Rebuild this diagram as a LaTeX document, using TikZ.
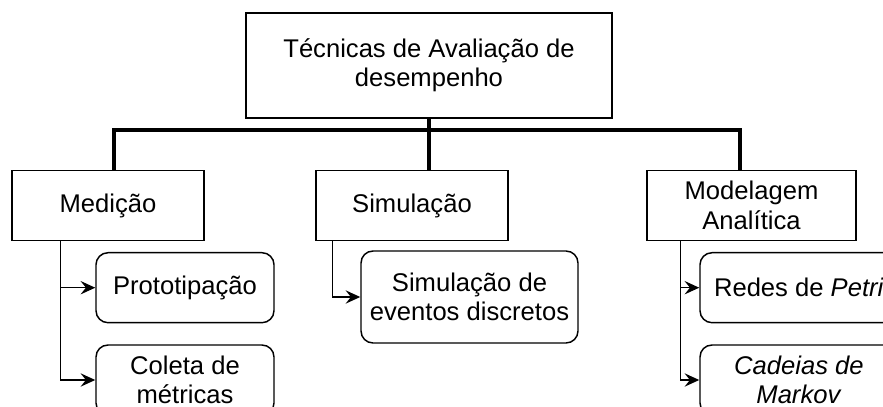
\documentclass[tikz,border=0pt]{standalone}
\usepackage{fontspec}
\setmainfont{Liberation Sans}
\usetikzlibrary{arrows.meta, positioning}

\begin{document}
\begin{tikzpicture}[x=0.75pt, y=-0.75pt,
    font=\fontsize{19.2pt}{22pt}\selectfont,
    main/.style = {draw, line width=1.1pt, align=center, inner sep=2pt,
                   minimum width=144pt, minimum height=52.5pt},
    leaf/.style = {main, rounded corners=9pt, minimum width=133.5pt},
    bus/.style  = {line width=2.3pt},
    child/.style = {line width=1.1pt, -{Stealth[length=11pt, width=10pt, inset=4pt]}}]
      \useasboundingbox (0,0) rectangle (883,407);
      \clip (0,0) rectangle (883,407);

      \node[main, minimum width=274.5pt, minimum height=78.75pt] (top) at (429,65.5)
            {Técnicas de Avaliação de\\desempenho};

      \node[main] (med) at (108,205.5)   {Medição};
      \node[main] (sim) at (412,205.5)   {Simulação};
      \node[main, minimum width=156.75pt] (mod) at (751.5,205.5) {Modelagem\\Analítica};

      \node[leaf] (proto)  at (185,287.7) {Prototipação};
      \node[leaf] (coleta) at (185,380)   {Coleta de\\métricas};
      \node[leaf, minimum width=162.75pt, minimum height=69pt] (eventos) at (469.5,297)
            {Simulação de\\eventos discretos};
      \node[leaf, minimum width=148.5pt] (petri)  at (799,287.7) {Redes de \textit{Petri}};
      \node[leaf, minimum width=148.5pt] (markov) at (799,380)   {\textit{Cadeias de}\\\textit{Markov}};

      \coordinate (jl) at (114,130);
      \coordinate (jr) at (740,130);

      \draw[bus] (top.south) -- (top.south |- sim.north);
      \draw[bus] (jl |- med.north) -- (jl) -- (jr) -- (jr |- mod.north);

      \draw[child] ([xshift=36.75pt]med.south west) |- (proto.west);
      \draw[child] ([xshift=36.75pt]med.south west) |- (coleta.west);
      \draw[child] ([xshift=12.75pt]sim.south west) |- (eventos.west);
      \draw[child] ([xshift=25.5pt]mod.south west)  |- (petri.west);
      \draw[child] ([xshift=25.5pt]mod.south west)  |- (markov.west);

    \end{tikzpicture}
\end{document}
